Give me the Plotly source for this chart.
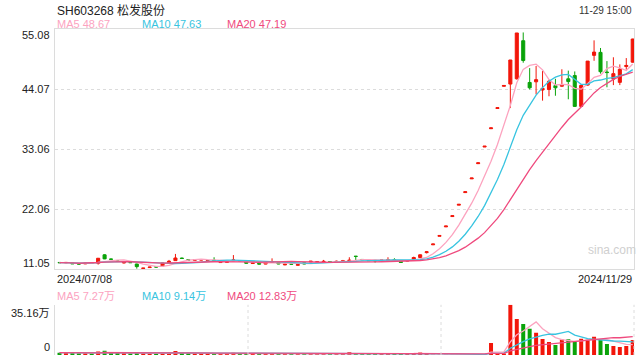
import plotly.graph_objects as go
import pandas as pd

# ---------------- data ----------------
title_text = "SH603268 松发股份"
time_text = "11-29 15:00"
start_label = "2024/07/08"
end_label = "2024/11/29"

opens = [12.30, 12.24, 12.22, 12.08, 12.04, 12.22, 12.15, 13.70, 12.92, 12.62,
         12.20, 12.30, 12.02, 11.20, 11.36, 11.50, 11.65, 12.27, 12.63, 13.10,
         12.80, 12.70, 12.74, 12.60, 12.70, 12.28, 12.34, 12.60, 12.60, 12.40,
         12.10, 12.15, 12.00, 12.35, 12.27, 11.85, 12.05, 11.78, 12.25, 12.40,
         12.40, 12.40, 12.45, 12.40, 12.50, 12.60, 13.45, 12.85, 12.76, 12.70,
         12.70, 12.65, 12.80, 12.52, 12.55, 12.90, 13.20, 14.10, 15.53, 17.09,
         18.82, 20.71, 22.80, 25.10, 27.62, 30.40, 33.45, 36.81, 40.51, 44.58,
         44.99, 45.96, 52.93, 45.28, 45.40, 43.90, 44.00, 44.70, 44.60, 45.95,
         46.55, 40.90, 44.80, 50.25, 50.80, 47.20, 45.90, 45.30, 48.20, 49.00]
highs = [12.38, 12.36, 12.26, 12.12, 12.22, 12.28, 13.10, 13.80, 13.00, 12.70,
         12.44, 12.36, 12.06, 11.28, 11.48, 11.56, 12.24, 12.76, 13.86, 13.18,
         12.86, 12.84, 12.86, 12.70, 13.25, 12.50, 12.44, 13.65, 12.66, 12.44,
         12.24, 12.20, 12.30, 13.05, 12.32, 12.04, 12.08, 11.94, 12.30, 12.56,
         12.46, 12.76, 12.50, 12.63, 12.76, 13.25, 13.47, 12.90, 12.80, 12.76,
         12.80, 13.25, 13.07, 12.56, 12.66, 13.36, 13.78, 14.40, 15.68, 17.24,
         18.97, 20.86, 22.95, 25.25, 27.77, 30.55, 33.60, 36.96, 40.66, 44.73,
         49.40, 54.35, 54.45, 47.92, 48.30, 47.40, 45.78, 45.95, 47.70, 47.45,
         47.30, 44.90, 49.20, 53.00, 51.60, 49.20, 49.90, 48.60, 49.75, 53.30]
lows = [12.20, 12.18, 12.02, 11.96, 12.00, 12.12, 11.90, 12.90, 12.80, 12.50,
        12.12, 12.20, 11.16, 11.14, 11.30, 11.42, 11.60, 12.22, 12.58, 12.98,
        12.68, 12.64, 12.70, 12.54, 12.60, 12.24, 12.30, 12.55, 12.50, 12.10,
        12.06, 11.95, 11.96, 12.30, 11.98, 11.80, 11.92, 11.74, 11.98, 12.36,
        12.36, 12.36, 12.36, 12.36, 12.46, 12.56, 12.63, 12.76, 12.60, 12.27,
        12.66, 12.60, 12.66, 12.26, 12.50, 12.86, 13.15, 13.95, 15.53, 17.09,
        18.82, 20.71, 22.80, 25.10, 27.62, 30.40, 33.45, 36.81, 40.51, 44.58,
        40.59, 45.80, 48.90, 44.00, 43.10, 41.95, 42.75, 42.85, 44.50, 42.20,
        40.80, 40.80, 44.70, 49.25, 46.90, 44.40, 44.80, 44.80, 47.60, 48.90]
closes = [12.25, 12.30, 12.06, 12.00, 12.16, 12.18, 13.07, 12.95, 12.88, 12.56,
          12.40, 12.26, 11.53, 11.26, 11.45, 11.46, 12.20, 12.52, 13.12, 13.03,
          12.72, 12.78, 12.80, 12.66, 12.65, 12.46, 12.40, 12.76, 12.55, 12.15,
          12.20, 12.00, 12.27, 12.45, 12.02, 12.00, 11.98, 11.90, 12.02, 12.52,
          12.42, 12.50, 12.40, 12.50, 12.60, 12.70, 13.40, 12.80, 12.63, 12.60,
          12.76, 12.80, 12.70, 12.30, 12.63, 13.20, 13.70, 14.25, 15.68, 17.24,
          18.97, 20.86, 22.95, 25.25, 27.77, 30.55, 33.60, 36.96, 40.66, 44.73,
          49.40, 54.35, 49.30, 44.30, 45.80, 44.20, 45.50, 44.30, 44.90, 45.45,
          40.90, 44.75, 49.20, 50.85, 47.25, 47.10, 46.90, 47.70, 48.40, 53.24]
# volume, in 万 (10k lots)
volumes = [1.6, 1.4, 1.5, 1.3, 1.2, 1.1, 2.4, 3.0, 1.8, 1.4,
           1.3, 1.0, 1.9, 1.2, 1.0, 0.9, 1.6, 1.5, 2.8, 1.6,
           1.2, 1.0, 0.9, 0.8, 1.3, 0.9, 0.8, 1.5, 0.9, 1.0,
           0.8, 0.9, 0.8, 1.2, 0.9, 0.7, 0.7, 0.8, 0.9, 1.0,
           0.8, 0.9, 0.7, 0.8, 0.9, 1.9, 1.3, 1.0, 0.9, 1.0,
           0.8, 1.1, 1.0, 0.9, 0.8, 1.4, 1.8, 1.2, 0.25, 0.2,
           0.2, 0.25, 0.3, 0.3, 0.35, 0.4, 0.5, 8.44, 0.9, 1.0,
           35.16, 25.3, 21.8, 18.3, 15.5, 11.2, 9.1, 7.0, 10.9, 11.0,
           9.4, 11.3, 10.6, 12.7, 11.05, 7.7, 6.3, 5.6, 6.3, 10.45]

price_ticks = [11.05, 22.06, 33.06, 44.07, 55.08]
vol_ticks = [0, 35.16]
vol_tick_labels = ["0", "35.16万"]

# ---------------- styling ----------------
RED = "#f2160a"
GREEN = "#0aa30a"
C_MA5 = "#fca3bf"
C_MA10 = "#38c4e0"
C_MA20 = "#ef4a7e"
GRID = "#dcdcdc"
FONT = "Arial, 'Liberation Sans', 'Noto Sans CJK SC', sans-serif"

idx = list(range(len(closes)))
cs = pd.Series(closes)
vs = pd.Series(volumes)
ma = {n: cs.rolling(n, min_periods=1).mean() for n in (5, 10, 20)}
vma = {n: vs.rolling(n, min_periods=1).mean() for n in (5, 10, 20)}
ma_colors = {5: C_MA5, 10: C_MA10, 20: C_MA20}

bar_colors = [RED if c >= o else GREEN for o, c in zip(opens, closes)]

fig = go.Figure()
fig.add_trace(go.Candlestick(
    x=idx, open=opens, high=highs, low=lows, close=closes,
    increasing=dict(line=dict(color=RED, width=1), fillcolor=RED),
    decreasing=dict(line=dict(color=GREEN, width=1), fillcolor=GREEN),
    whiskerwidth=0, xaxis="x", yaxis="y", showlegend=False, hoverinfo="skip"))
for n in (5, 10, 20):
    fig.add_trace(go.Scatter(x=idx, y=ma[n], mode="lines",
                             line=dict(color=ma_colors[n], width=1.3),
                             xaxis="x", yaxis="y", hoverinfo="skip"))

fig.add_trace(go.Bar(x=idx, y=volumes, marker=dict(color=bar_colors, line=dict(width=0)),
                     width=0.62, xaxis="x2", yaxis="y2", hoverinfo="skip"))
for n in (5, 10, 20):
    fig.add_trace(go.Scatter(x=idx, y=vma[n], mode="lines",
                             line=dict(color=ma_colors[n], width=1.3),
                             xaxis="x2", yaxis="y2", hoverinfo="skip"))

xr = [-0.7, 89.2]
fig.update_layout(
    width=640, height=360,
    margin=dict(l=55, r=6, t=29, b=5),
    paper_bgcolor="white", plot_bgcolor="white",
    showlegend=False, boxgap=0.32,
    font=dict(family=FONT, size=11, color="#333"),
    xaxis=dict(domain=[0, 1], range=xr, showgrid=False, showticklabels=False,
               zeroline=False, rangeslider=dict(visible=False),
               showline=True, linecolor=GRID, linewidth=1, mirror=True,
               anchor="y", fixedrange=True),
    yaxis=dict(domain=[0.263, 1], range=[price_ticks[0], price_ticks[-1]],
               tickvals=price_ticks[1:-1], showticklabels=False,
               showgrid=True, gridcolor=GRID, griddash="dot", gridwidth=1,
               zeroline=False, showline=True, linecolor=GRID, mirror=True,
               anchor="x"),
    xaxis2=dict(domain=[0, 1], range=xr, showgrid=False, showticklabels=False,
                zeroline=False, showline=False, anchor="y2"),
    yaxis2=dict(domain=[0, 0.154], range=[vol_ticks[0], vol_ticks[-1]],
                tickvals=[vol_ticks[-1]], showticklabels=False,
                showgrid=True, gridcolor=GRID, griddash="dot", gridwidth=1,
                zeroline=False, showline=True, linecolor=GRID, anchor="x2"),
)

# vertical dotted separators in volume panel
for fx in (1 / 3, 2 / 3, 1.0):
    fig.add_shape(type="line", xref="x2 domain", yref="y2 domain",
                  x0=fx, x1=fx, y0=0, y1=1,
                  line=dict(color=GRID, width=1, dash="dot"))

ann = []
# price tick labels
for i, v in enumerate(price_ticks):
    if i == len(price_ticks) - 1:
        ya, ys = "top", 2
    elif i == 0:
        ya, ys = "bottom", -2
    else:
        ya, ys = "middle", 0
    ann.append(dict(x=0, xref="paper", xanchor="right", xshift=-3, yshift=ys,
                    y=v, yref="y", yanchor=ya, text=f"{v:.2f}", showarrow=False,
                    font=dict(size=11, color="#222")))
# volume tick labels
ann.append(dict(x=0, xref="paper", xanchor="right", xshift=-3, y=vol_ticks[-1], yref="y2",
                yanchor="top", text=vol_tick_labels[-1], showarrow=False,
                font=dict(size=11, color="#222")))
ann.append(dict(x=0, xref="paper", xanchor="right", xshift=-3, y=vol_ticks[0], yref="y2",
                yanchor="bottom", text=vol_tick_labels[0], showarrow=False,
                font=dict(size=11, color="#222")))
# title / time
ann.append(dict(x=0, xref="paper", xanchor="left", y=1.058, yref="paper", yanchor="middle",
                text=title_text, showarrow=False, font=dict(size=12, color="#222")))
ann.append(dict(x=1, xref="paper", xanchor="right", y=1.058, yref="paper", yanchor="middle",
                text=time_text, showarrow=False, font=dict(size=10, color="#333")))
# price / volume MA legends
legend_x = [0, 0.147, 0.293]
for lx, n in zip(legend_x, (5, 10, 20)):
    ann.append(dict(x=lx, xref="paper", xanchor="left", y=1.016, yref="paper", yanchor="middle",
                    text=f"MA{n} {ma[n].iloc[-1]:.2f}", showarrow=False,
                    font=dict(size=11, color=ma_colors[n])))
    ann.append(dict(x=lx, xref="paper", xanchor="left", y=0.181, yref="paper", yanchor="middle",
                    text=f"MA{n} {vma[n].iloc[-1]:.2f}万", showarrow=False,
                    font=dict(size=11, color=ma_colors[n])))
# date labels
ann.append(dict(x=0, xref="paper", xanchor="left", y=0.233, yref="paper", yanchor="middle",
                text=start_label, showarrow=False, font=dict(size=11, color="#222")))
ann.append(dict(x=1, xref="paper", xanchor="right", y=0.233, yref="paper", yanchor="middle",
                text=end_label, showarrow=False, font=dict(size=11, color="#222")))
# watermark
ann.append(dict(x=0.962, xref="paper", xanchor="center", y=0.322, yref="paper", yanchor="middle",
                text="sina.com", showarrow=False, font=dict(size=12, color="#cfcfcf")))
fig.update_layout(annotations=ann)

fig.write_html("out.html",
               config={"displayModeBar": False, "staticPlot": True},
               post_script="document.body.style.margin='0';document.body.style.padding='0';"
                           "document.documentElement.style.overflow='hidden';")
